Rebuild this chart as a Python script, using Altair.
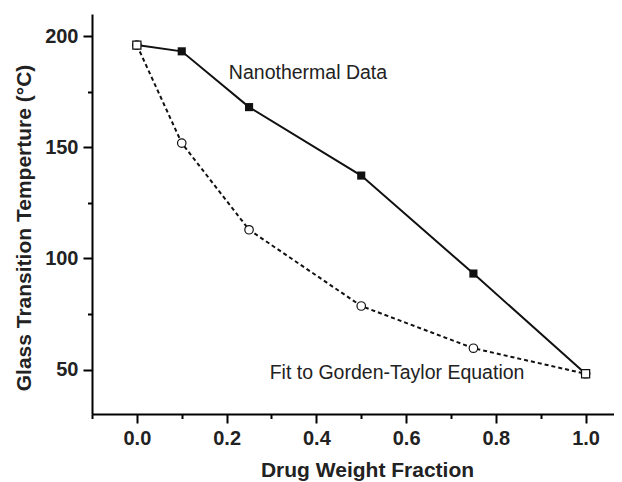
import altair as alt
import pandas as pd

# data
frac = [0.0, 0.1, 0.25, 0.5, 0.75, 1.0]
nano = [196, 193.2, 168.1, 137.3, 93.2, 48.1]
gt = [196, 151.9, 112.9, 78.6, 59.6, 48.1]
end_x = [0.0, 1.0]
end_y = [196, 48.1]
x_major = [0.0, 0.2, 0.4, 0.6, 0.8, 1.0]
x_minor = [-0.1, 0.1, 0.3, 0.5, 0.7, 0.9]
y_major = [50, 100, 150, 200]
y_minor = [75, 125, 175]
label_text = ["Nanothermal Data", "Fit to Gorden-Taylor Equation"]
label_x = [0.205, 0.296]
label_y = [183.6, 48.3]

FONT = "Liberation Sans"
df = pd.DataFrame({"x": frac, "nano": nano, "gt": gt})
df_end = pd.DataFrame({"x": end_x, "y": end_y})
df_lab = pd.DataFrame({"t": label_text, "x": label_x, "y": label_y})
df_xm = pd.DataFrame({"x": x_minor, "y": [100] * len(x_minor)})
df_ym = pd.DataFrame({"x": [0.5] * len(y_minor), "y": y_minor})

xs = alt.Scale(domain=[-0.1, 1.0633], nice=False, zero=False)
ys = alt.Scale(domain=[30, 210], nice=False, zero=False)

common_axis = dict(
    domainColor="black", domainWidth=2, tickColor="black", tickWidth=2,
    grid=False, labelFont=FONT, labelFontWeight="bold", labelFontSize=20,
    labelColor="#222", titleFont=FONT, titleFontWeight="bold",
    titleFontSize=21, titleColor="#222",
)

x_axis = alt.Axis(values=x_major, format=".1f", tickSize=9, labelPadding=5,
                  title="Drug Weight Fraction", titleX=275, titleY=62,
                  titleBaseline="alphabetic", titleAlign="center", **common_axis)
y_axis = alt.Axis(values=y_major, format="d", tickSize=9, labelPadding=5,
                  title="Glass Transition Temperture (°C)", titleX=-68,
                  titleY=213.5, titleAngle=270, titleBaseline="middle",
                  titleAlign="center", **common_axis)

base = alt.Chart(df)

nano_line = base.mark_line(color="#111", strokeWidth=2).encode(
    x=alt.X("x:Q", scale=xs, axis=x_axis),
    y=alt.Y("nano:Q", scale=ys, axis=y_axis),
)
gt_line = base.mark_line(color="#111", strokeWidth=2, strokeDash=[4, 3]).encode(
    x=alt.X("x:Q", scale=xs), y=alt.Y("gt:Q", scale=ys)
)
nano_pts = base.mark_square(color="#111", size=66, opacity=1).encode(
    x=alt.X("x:Q", scale=xs), y=alt.Y("nano:Q", scale=ys)
)
gt_pts = base.mark_point(shape="circle", filled=True, fill="white", stroke="#111",
                         strokeWidth=1.2, size=72, opacity=1).encode(
    x=alt.X("x:Q", scale=xs), y=alt.Y("gt:Q", scale=ys)
)
end_pts = alt.Chart(df_end).mark_point(shape="square", filled=True, fill="white",
                                        stroke="#111", strokeWidth=1.2, size=66,
                                        opacity=1).encode(
    x=alt.X("x:Q", scale=xs), y=alt.Y("y:Q", scale=ys)
)
labels = alt.Chart(df_lab).mark_text(align="left", baseline="middle", font=FONT,
                                     fontSize=19.5, color="#222").encode(
    x=alt.X("x:Q", scale=xs), y=alt.Y("y:Q", scale=ys), text="t:N"
)

main = alt.layer(nano_line, gt_line, nano_pts, gt_pts, end_pts, labels)

minor_x = alt.Chart(df_xm).mark_point(opacity=0).encode(
    x=alt.X("x:Q", scale=xs, axis=alt.Axis(values=x_minor, orient="bottom",
            labels=False, title=None, domain=False, tickSize=4.5, tickWidth=2,
            tickColor="black", grid=False)),
    y=alt.Y("y:Q", scale=ys, axis=None),
)
minor_y = alt.Chart(df_ym).mark_point(opacity=0).encode(
    x=alt.X("x:Q", scale=xs, axis=None),
    y=alt.Y("y:Q", scale=ys, axis=alt.Axis(values=y_minor, orient="left",
            labels=False, title=None, domain=False, tickSize=4.5, tickWidth=2,
            tickColor="black", grid=False)),
)

chart = alt.layer(main, minor_x, minor_y).resolve_axis(
    x="independent", y="independent"
).properties(
    width=522, height=400,
    autosize=alt.AutoSizeParams(type="none"),
    padding={"left": 84, "top": 6, "right": 0, "bottom": 68},
).configure_view(stroke=None)

chart.save("out.html", embed_options={"renderer": "svg", "actions": False})
